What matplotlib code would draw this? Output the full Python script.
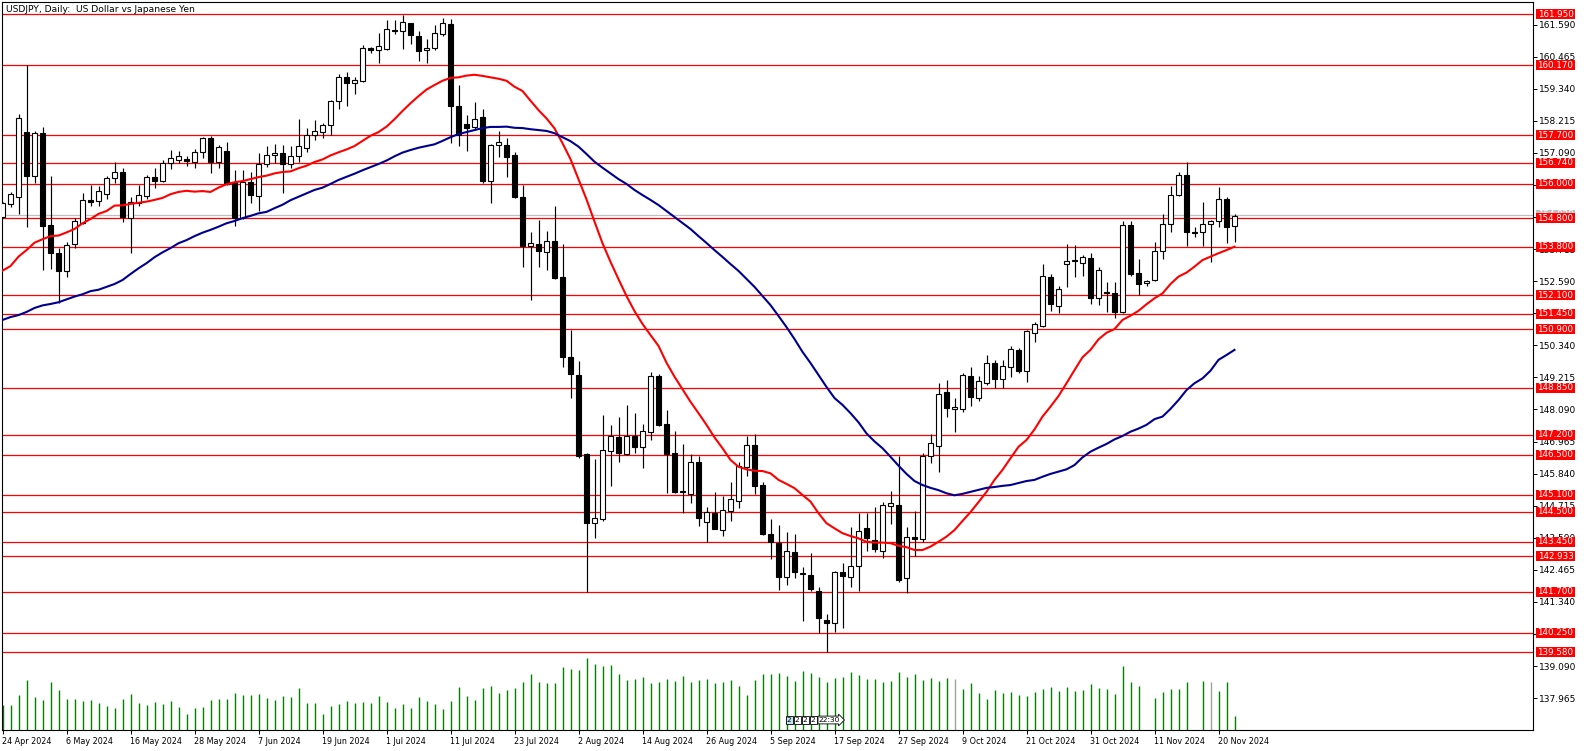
import matplotlib
matplotlib.use("Agg")
import matplotlib.pyplot as plt
import matplotlib.transforms as mtransforms
from matplotlib.patches import Rectangle

plt.rcParams['font.family'] = ['DejaVu Sans']

title = "USDJPY, Daily:  US Dollar vs Japanese Yen"

opens = [154.85, 155.29, 155.55, 157.83, 156.29, 157.79, 154.56, 153.57, 152.94, 153.88,
         154.62, 155.43, 155.41, 155.65, 156.20, 156.42, 154.82, 155.32, 155.59, 156.24,
         156.12, 156.75, 156.85, 156.88, 156.78, 157.11, 157.60, 156.78, 157.16, 156.08,
         154.82, 156.06, 155.59, 156.69, 157.00, 157.07, 156.69, 156.97, 157.25, 157.72,
         157.81, 158.06, 158.90, 159.74, 159.53, 159.62, 160.76, 160.69, 160.72, 161.38,
         161.38, 161.63, 161.19, 160.69, 160.76, 161.27, 161.61, 158.73, 158.10, 158.01,
         158.34, 156.12, 157.35, 157.37, 157.02, 155.53, 153.82, 153.88, 153.62, 154.00,
         152.74, 149.93, 149.30, 146.52, 144.12, 144.26, 146.65, 147.14, 146.53, 147.16,
         146.79, 147.31, 149.26, 147.58, 146.55, 145.22, 145.13, 146.24, 144.15, 144.47,
         143.86, 144.54, 144.89, 146.06, 146.83, 145.43, 143.71, 143.42, 142.23, 143.09,
         142.35, 142.28, 141.73, 140.71, 140.59, 142.39, 142.22, 142.60, 143.94, 143.51,
         143.14, 144.72, 144.74, 142.19, 143.63, 143.53, 146.46, 146.81, 148.69, 148.11,
         148.09, 149.25, 148.50, 149.01, 149.71, 149.15, 149.59, 150.16, 149.45, 150.78,
         151.03, 152.72, 151.73, 153.18, 153.33, 153.24, 153.39, 151.99, 152.20, 152.16,
         151.52, 154.55, 152.86, 152.51, 152.62, 153.64, 154.58, 155.60, 156.31, 154.31,
         154.30, 154.60, 154.69, 155.47, 154.51]
highs = [155.38, 155.73, 158.45, 160.17, 157.86, 157.99, 156.28, 153.77, 153.98, 154.79,
         155.67, 155.97, 155.93, 156.28, 156.77, 156.57, 155.55, 155.96, 156.30, 156.57,
         156.84, 157.19, 157.16, 156.98, 157.21, 157.66, 157.68, 157.37, 157.46, 156.49,
         156.49, 156.43, 157.07, 157.33, 157.40, 157.35, 157.33, 158.29, 157.97, 158.24,
         158.15, 158.94, 159.86, 159.94, 159.74, 160.87, 160.82, 161.31, 161.75, 161.75,
         161.94, 161.66, 161.38, 161.09, 161.56, 161.81, 161.77, 159.46, 158.42, 158.87,
         158.63, 157.40, 157.86, 157.60, 157.12, 155.96, 154.31, 154.74, 154.35, 155.23,
         153.89, 150.88, 149.79, 146.55, 146.35, 147.90, 147.55, 147.84, 148.25, 147.98,
         147.58, 149.39, 149.33, 148.07, 147.33, 146.88, 146.52, 146.46, 144.66, 145.20,
         145.06, 145.55, 146.25, 147.17, 147.22, 145.53, 144.24, 144.04, 143.80, 143.72,
         142.55, 143.07, 141.87, 140.90, 142.42, 142.69, 143.98, 144.47, 144.47, 144.66,
         144.86, 145.23, 146.46, 143.96, 144.53, 146.55, 147.22, 149.01, 149.12, 148.48,
         149.38, 149.58, 149.26, 150.00, 149.83, 149.83, 150.32, 150.26, 150.86, 151.17,
         153.19, 152.84, 152.42, 153.88, 153.86, 153.51, 153.57, 153.08, 152.57, 152.55,
         154.71, 154.71, 153.37, 152.62, 153.95, 154.95, 155.94, 156.42, 156.77, 154.48,
         155.36, 154.74, 155.88, 155.55, 154.95]
lows = [154.79, 155.18, 154.95, 154.50, 156.05, 152.98, 153.01, 151.81, 152.75, 153.77,
        154.60, 155.23, 155.24, 155.48, 156.02, 154.68, 153.59, 155.23, 155.47, 155.85,
        156.08, 156.51, 156.72, 156.63, 156.55, 156.92, 156.37, 156.55, 155.96, 154.54,
        154.77, 155.32, 155.05, 156.58, 156.75, 155.69, 156.55, 156.78, 157.12, 157.54,
        157.60, 157.73, 158.64, 158.73, 159.17, 159.59, 160.58, 160.25, 160.70, 161.26,
        160.75, 160.92, 160.32, 160.25, 160.70, 161.19, 157.43, 157.34, 157.17, 157.89,
        156.05, 155.34, 156.96, 156.26, 155.52, 153.10, 151.93, 153.10, 152.98, 152.65,
        149.59, 148.50, 146.40, 141.68, 143.59, 144.19, 145.41, 146.26, 146.49, 146.58,
        146.05, 147.02, 147.50, 145.17, 145.17, 144.45, 144.82, 144.00, 143.43, 143.88,
        143.65, 144.19, 144.65, 145.76, 145.13, 143.68, 142.83, 141.77, 141.95, 142.18,
        140.68, 141.73, 140.26, 139.60, 140.30, 140.44, 141.87, 141.72, 143.14, 143.10,
        142.89, 144.07, 142.03, 141.64, 142.95, 143.43, 146.21, 145.91, 147.84, 147.31,
        148.01, 148.22, 148.40, 148.95, 148.85, 148.85, 149.24, 149.36, 149.07, 150.47,
        150.97, 151.54, 151.46, 152.40, 152.75, 152.78, 151.79, 151.75, 151.52, 151.29,
        151.46, 152.77, 152.10, 152.43, 152.60, 153.38, 154.33, 155.58, 153.82, 154.15,
        153.82, 153.27, 154.50, 153.92, 153.98]
closes = [155.32, 155.65, 158.30, 156.28, 157.78, 154.54, 153.57, 152.96, 153.86, 154.70,
          155.44, 155.38, 155.75, 156.22, 156.42, 154.85, 155.36, 155.60, 156.24, 156.12,
          156.75, 156.90, 156.97, 156.79, 157.11, 157.60, 156.78, 157.28, 155.99, 154.82,
          156.06, 155.61, 156.70, 157.00, 157.09, 156.69, 156.98, 157.33, 157.71, 157.84,
          158.06, 158.91, 159.74, 159.53, 159.65, 160.76, 160.71, 160.84, 161.42, 161.37,
          161.67, 161.21, 160.68, 160.76, 161.28, 161.63, 158.75, 157.72, 157.97, 158.27,
          156.12, 157.35, 157.47, 156.96, 155.55, 153.82, 153.92, 153.66, 153.99, 152.71,
          149.94, 149.35, 146.47, 144.12, 144.27, 146.67, 147.16, 146.57, 147.16, 146.79,
          147.32, 149.26, 147.55, 146.53, 145.21, 145.20, 146.24, 144.29, 144.51, 143.90,
          144.55, 144.94, 146.12, 146.83, 145.42, 143.71, 143.44, 142.23, 143.11, 142.40,
          142.33, 141.79, 140.79, 140.59, 142.38, 142.26, 142.60, 143.83, 143.59, 143.21,
          144.73, 144.81, 142.11, 143.62, 143.53, 146.46, 146.90, 148.62, 148.15, 148.18,
          149.29, 148.54, 149.09, 149.73, 149.17, 149.60, 150.20, 149.45, 150.84, 151.09,
          152.77, 151.79, 152.32, 153.29, 153.29, 153.44, 152.01, 152.97, 152.16, 151.52,
          154.55, 152.85, 152.50, 152.61, 153.64, 154.60, 155.60, 156.31, 154.30, 154.29,
          154.58, 154.70, 155.46, 154.50, 154.89]
volumes = [75, 75, 105, 150, 99, 90, 144, 120, 93, 93,
           87, 90, 81, 72, 66, 93, 108, 81, 75, 84,
           78, 87, 69, 48, 66, 69, 90, 93, 93, 111,
           105, 105, 108, 96, 90, 102, 99, 126, 81, 81,
           48, 72, 78, 87, 81, 84, 81, 102, 84, 66,
           78, 66, 99, 87, 78, 63, 87, 129, 102, 90,
           126, 132, 111, 120, 126, 144, 168, 144, 141, 141,
           189, 183, 180, 216, 198, 192, 195, 168, 150, 153,
           159, 141, 144, 153, 147, 162, 144, 150, 153, 141,
           144, 150, 132, 105, 150, 168, 168, 171, 162, 147,
           177, 171, 159, 144, 156, 159, 174, 165, 153, 153,
           144, 147, 174, 159, 168, 150, 156, 147, 156, 153,
           123, 141, 111, 93, 120, 111, 114, 105, 102, 114,
           123, 129, 117, 129, 117, 120, 138, 126, 123, 108,
           192, 144, 132, 0, 96, 114, 123, 123, 144, 0,
           147, 144, 117, 144, 42]
gray_volume_bars = [119, 151]

ma_fast = [152.96, 153.12, 153.45, 153.68, 153.94, 154.06, 154.17, 154.19, 154.30, 154.42,
           154.62, 154.77, 154.95, 155.05, 155.24, 155.25, 155.30, 155.34, 155.38, 155.44,
           155.51, 155.64, 155.72, 155.76, 155.73, 155.75, 155.72, 155.87, 155.99, 156.06,
           156.10, 156.17, 156.24, 156.29, 156.37, 156.42, 156.44, 156.55, 156.64, 156.77,
           156.86, 157.00, 157.11, 157.21, 157.33, 157.51, 157.69, 157.82, 158.01, 158.27,
           158.56, 158.83, 159.08, 159.31, 159.47, 159.62, 159.72, 159.74, 159.80, 159.83,
           159.79, 159.74, 159.69, 159.62, 159.41, 159.26, 158.92, 158.59, 158.30, 157.95,
           157.43, 156.87, 156.16, 155.46, 154.68, 153.92, 153.27, 152.66, 152.07, 151.54,
           151.09, 150.70, 150.32, 149.73, 149.24, 148.80, 148.36, 147.96, 147.55, 147.11,
           146.73, 146.32, 146.08, 145.99, 145.94, 145.93, 145.85, 145.62, 145.48, 145.33,
           145.09, 144.86, 144.45, 144.10, 143.92, 143.75, 143.65, 143.57, 143.45, 143.42,
           143.42, 143.40, 143.31, 143.26, 143.16, 143.16, 143.28, 143.45, 143.63, 143.86,
           144.18, 144.49, 144.84, 145.20, 145.62, 145.97, 146.38, 146.78, 147.02, 147.39,
           147.84, 148.19, 148.56, 149.01, 149.47, 149.92, 150.18, 150.55, 150.78, 150.91,
           151.23, 151.38, 151.55, 151.78, 151.99, 152.16, 152.49, 152.75, 152.89, 153.10,
           153.33, 153.45, 153.57, 153.68, 153.80]
ma_slow = [151.23, 151.33, 151.40, 151.51, 151.65, 151.74, 151.79, 151.85, 151.95, 152.05,
           152.13, 152.24, 152.29, 152.39, 152.49, 152.63, 152.84, 153.04, 153.22, 153.43,
           153.60, 153.75, 153.92, 154.03, 154.17, 154.29, 154.39, 154.50, 154.62, 154.70,
           154.80, 154.88, 154.97, 155.02, 155.15, 155.27, 155.43, 155.55, 155.67, 155.79,
           155.87, 156.00, 156.14, 156.25, 156.36, 156.48, 156.59, 156.70, 156.82, 156.97,
           157.10, 157.19, 157.27, 157.33, 157.39, 157.51, 157.64, 157.75, 157.82, 157.89,
           157.96, 158.00, 158.00, 158.01, 157.97, 157.96, 157.92, 157.89, 157.86, 157.78,
           157.64, 157.50, 157.31, 157.05, 156.78, 156.57, 156.37, 156.17, 156.00, 155.79,
           155.61, 155.44, 155.26, 155.05, 154.84, 154.63, 154.42, 154.17, 153.93, 153.68,
           153.44, 153.19, 152.95, 152.67, 152.39, 152.07, 151.75, 151.37, 150.98, 150.56,
           150.11, 149.72, 149.30, 148.88, 148.49, 148.25, 147.96, 147.64, 147.25, 146.97,
           146.73, 146.43, 146.12, 145.83, 145.58, 145.44, 145.34, 145.26, 145.15, 145.08,
           145.13, 145.20, 145.27, 145.34, 145.37, 145.41, 145.44, 145.51, 145.58, 145.62,
           145.73, 145.83, 145.91, 145.99, 146.14, 146.41, 146.61, 146.75, 146.88, 147.04,
           147.16, 147.31, 147.42, 147.55, 147.75, 147.84, 148.11, 148.42, 148.77, 149.01,
           149.18, 149.45, 149.83, 150.00, 150.18]

level_prices = [161.950, 160.170, 157.700, 156.740, 156.000, 154.800, 153.800, 152.100,
                151.450, 150.900, 148.850, 147.200, 146.500, 145.100, 144.500, 143.450,
                142.933, 141.700, 140.250, 139.580]
bid_price = 154.92
price_ticks = [161.590, 160.465, 159.340, 158.215, 157.090, 155.965, 154.840, 153.715,
               152.590, 151.465, 150.340, 149.215, 148.090, 146.965, 145.840, 144.715,
               143.590, 142.465, 141.340, 140.215, 139.090, 137.965]
date_labels = ["24 Apr 2024", "6 May 2024", "16 May 2024", "28 May 2024", "7 Jun 2024",
               "19 Jun 2024", "1 Jul 2024", "11 Jul 2024", "23 Jul 2024", "2 Aug 2024",
               "14 Aug 2024", "26 Aug 2024", "5 Sep 2024", "17 Sep 2024", "27 Sep 2024",
               "9 Oct 2024", "21 Oct 2024", "31 Oct 2024", "11 Nov 2024", "20 Nov 2024"]
date_step = 8
event_bars = [98, 99, 100, 101, 102]
event_texts = ["2", "2", "2", "2", "22:30"]

# ---------------- layout (pixels of the 1586x751 image) ----------------
W, H = 1586, 751
PL, PR, PT, PB = 2, 1533, 2, 730
fig = plt.figure(figsize=(W / 100, H / 100), dpi=100)
fig.patch.set_facecolor("white")
pos = [PL / W, (H - PB) / H, (PR - PL) / W, (PB - PT) / H]
axv = fig.add_axes(pos)
ax = fig.add_axes(pos)
axv.set_zorder(0)
ax.set_zorder(1)
ax.patch.set_visible(False)

n = len(opens)
idx = list(range(n))
xmin = (PL - 2.5) / 8.0
xmax = (PR - 2.5) / 8.0
ymax = 162.382
ymin = 136.847

# volumes (own scale, bottom strip)
vcolors = ["#a0a0a0" if i in gray_volume_bars else "#008000" for i in idx]
axv.vlines(idx, 0, volumes, colors=vcolors, linewidth=1.0)
axv.set_xlim(xmin, xmax)
axv.set_ylim(0, 2184)
axv.axis("off")

# horizontal levels + bid line
ax.axhline(bid_price, color="#c0c0c0", lw=0.9, zorder=1)
for p in level_prices:
    ax.axhline(p, color="#ff0000", lw=0.9, zorder=1.2)

# candles
ax.vlines(idx, lows, highs, colors="black", linewidth=0.85, zorder=2)
bottoms = [min(o, c) for o, c in zip(opens, closes)]
heights = [max(abs(c - o), 0.02) for o, c in zip(opens, closes)]
faces = ["white" if c >= o else "black" for o, c in zip(opens, closes)]
ax.bar(idx, heights, bottom=bottoms, width=0.6, color=faces, edgecolor="black",
       linewidth=0.8, zorder=3)

# moving averages
ax.plot(idx, ma_fast, color="#ff0000", lw=1.5, zorder=4, solid_joinstyle="round")
ax.plot(idx, ma_slow, color="#000090", lw=1.5, zorder=4, solid_joinstyle="round")

ax.set_xlim(xmin, xmax)
ax.set_ylim(ymin, ymax)

# axes / ticks
for s in ax.spines.values():
    s.set_linewidth(0.8)
    s.set_color("black")
ax.yaxis.tick_right()
ax.set_yticks(price_ticks)
ax.set_yticklabels([f"{t:.3f}" for t in price_ticks])
ax.tick_params(axis="y", direction="out", length=3, width=0.7, pad=1.2, labelsize=6.5)
ax.set_xticks(list(range(0, date_step * len(date_labels), date_step)))
ax.set_xticklabels(date_labels)
for lab in ax.get_xticklabels():
    lab.set_ha("left")
ax.tick_params(axis="x", direction="out", length=3, width=0.7, pad=2, labelsize=5.8)

# title
ax.text(4 / (PR - PL), 1 - 8 / (PB - PT), title, transform=ax.transAxes,
        fontsize=6.6, ha="left", va="center", zorder=6)

# price labels
trans = mtransforms.blended_transform_factory(ax.transAxes, ax.transData)
ppx = (ymax - ymin) / (PB - PT)
bx0 = (1536 - PL) / (PR - PL)
bw = 39 / (PR - PL)
bh = 10 * ppx
ax.add_patch(Rectangle((bx0, bid_price - bh / 2), bw, bh, transform=trans,
                       facecolor="#c0c0c0", edgecolor="none", clip_on=False, zorder=9))
ax.text(bx0 + bw / 2, bid_price, f"{bid_price:.3f}", transform=trans, color="white",
        fontsize=6.3, ha="center", va="center", clip_on=False, zorder=9.5)
for p in level_prices:
    ax.add_patch(Rectangle((bx0, p - bh / 2), bw, bh, transform=trans,
                           facecolor="#ff0000", edgecolor="none", clip_on=False, zorder=10))
    ax.text(bx0 + bw / 2, p, f"{p:.3f}", transform=trans, color="white",
            fontsize=6.3, ha="center", va="center", clip_on=False, zorder=11)

# event markers on the time axis
etrans = mtransforms.blended_transform_factory(ax.transData, ax.transAxes)
for k, (b, t) in enumerate(zip(event_bars, event_texts)):
    fc = "#bfe6f0" if k == 0 else "white"
    style = "rarrow,pad=0.12" if len(t) > 1 else "square,pad=0.12"
    ax.text(b + 0.05, 10 / (PB - PT), t, transform=etrans, fontsize=5.4,
            ha="left", va="center", zorder=7,
            bbox=dict(boxstyle=style, facecolor=fc, edgecolor="black", linewidth=0.6))

fig.savefig("out.png", dpi=100, facecolor="white")
